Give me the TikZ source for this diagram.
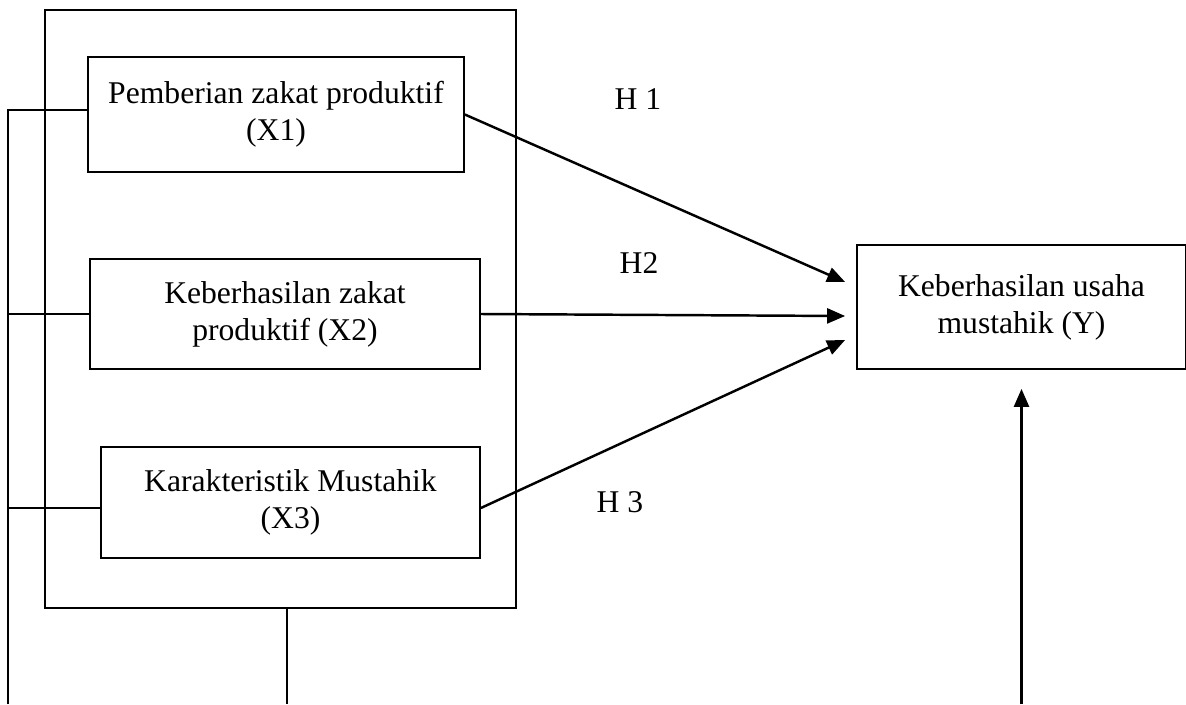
\documentclass[tikz,border=0pt]{standalone}
\usepackage{fontspec}
\setmainfont{Liberation Serif}
\usetikzlibrary{arrows.meta}
\begin{document}
\begin{tikzpicture}[
  box/.style={draw,line width=1pt,align=center,inner sep=0pt,font=\fontsize{18}{21}\selectfont},
  hlabel/.style={font=\fontsize{18}{21}\selectfont},
  arr/.style={line width=1.4pt,-{Triangle[length=0.36cm,width=0.30cm]}},
  bus/.style={line width=1pt}]
\useasboundingbox (0,0) rectangle (23.72,-14.08);

\node[draw,line width=1pt,minimum width=9.42cm,minimum height=11.96cm] (frame) at (5.61,-6.18) {};

\node[box,minimum width=7.52cm,minimum height=2.30cm] (X1) at (5.52,-2.29) {Pemberian zakat produktif\\(X1)};
\node[box,minimum width=7.80cm,minimum height=2.20cm] (X2) at (5.70,-6.28) {Keberhasilan zakat\\produktif (X2)};
\node[box,minimum width=7.58cm,minimum height=2.22cm] (X3) at (5.81,-10.05) {Karakteristik Mustahik\\(X3)};
\node[box,minimum width=6.58cm,minimum height=2.48cm] (Y) at (20.43,-6.14) {Keberhasilan usaha\\mustahik (Y)};

\node[hlabel] (h1) at (12.76,-1.98) {H 1};
\node[hlabel] (h2) at (12.78,-5.26) {H2};
\node[hlabel] (h3) at (12.40,-10.04) {H 3};

\coordinate (bustop) at (0.16,-2.20);
\coordinate (busbot) at (0.16,-14.08);
\coordinate (framebot) at (5.74,-14.08);
\coordinate (ybot) at (20.44,-14.08);

\draw[bus] (busbot) -- (bustop) -- (bustop -| X1.west);
\draw[bus] (X2.west -| bustop) -- (X2.west);
\draw[bus] ([yshift=-0.11cm]X3.west -| bustop) -- ([yshift=-0.11cm]X3.west);
\draw[bus] (frame.south -| framebot) -- (framebot);

\draw[arr] (X1.east) -- ([xshift=-0.22cm,yshift=0.50cm]Y.west);
\draw[arr] (X2.east) -- ([xshift=-0.22cm,yshift=-0.18cm]Y.west);
\draw[arr] ([yshift=-0.11cm]X3.east) -- ([xshift=-0.22cm,yshift=-0.66cm]Y.west);
\draw[arr] (Y.south |- ybot) -- ([yshift=-0.38cm]Y.south);

\end{tikzpicture}
\end{document}
